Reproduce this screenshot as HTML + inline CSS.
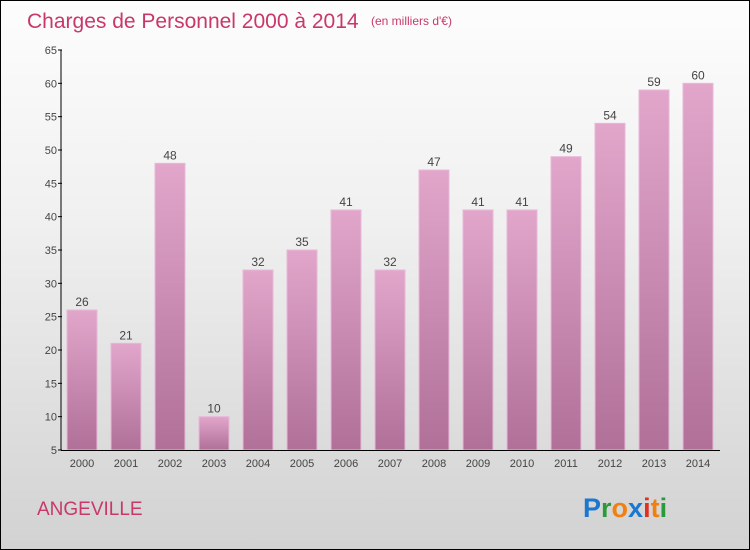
<!DOCTYPE html>
<html><head><meta charset="utf-8"><style>
body{margin:0}
#c{position:relative;width:748px;height:548px;border:1px solid #000;background:linear-gradient(#fdfdfd,#f0f0f0 40%,#d2d2d2);font-family:"Liberation Sans",sans-serif;overflow:hidden}
</style></head><body>
<div id="c">
<svg width="748" height="548" xmlns="http://www.w3.org/2000/svg">
<defs><linearGradient id="bg" x1="0" y1="0" x2="0" y2="1"><stop offset="0" stop-color="#e2a6cb"/><stop offset="1" stop-color="#b07098"/></linearGradient></defs>
<text x="26" y="27" font-size="21" fill="#c8386a">Charges de Personnel 2000 à 2014</text>
<text x="370" y="24" font-size="12" fill="#c8386a">(en milliers d'€)</text>
<g id="plot"></g>
<text x="36" y="514" font-size="19" fill="#c8386a">ANGEVILLE</text>
<g font-size="27" font-weight="bold">
<text x="582" y="516"><tspan fill="#1a78d0">P</tspan><tspan fill="#2a9a3a">r</tspan><tspan fill="#f08010">o</tspan><tspan fill="#1a78d0">x</tspan><tspan fill="#e03020">i</tspan><tspan fill="#f08010">t</tspan><tspan fill="#2a9a3a">i</tspan></text>
</g>
</svg></div>
<script>
const categories=["2000","2001","2002","2003","2004","2005","2006","2007","2008","2009","2010","2011","2012","2013","2014"];
const values=[26,21,48,10,32,35,41,32,47,41,41,49,54,59,60];
const ticks=[5,10,15,20,25,30,35,40,45,50,55,60,65];
const ns="http://www.w3.org/2000/svg";
const g=document.getElementById('plot');
const y0=449,y1=49,vmin=5,vmax=65,xL=60,xR=719;
const y=v=>y0-(v-vmin)/(vmax-vmin)*(y0-y1);
const step=44,bw=30,x=i=>66+i*step;
function mk(t,a){const e=document.createElementNS(ns,t);for(const k in a)e.setAttribute(k,a[k]);g.appendChild(e);return e;}
values.forEach((v,i)=>{
 const r=mk('rect',{x:x(i),y:y(v),width:bw,height:y0-y(v),fill:'url(#bg)',stroke:'#e8b8d8','stroke-width':1});
 
 
 const t=mk('text',{x:x(i)+bw/2,y:y(v)-4,'text-anchor':'middle','font-size':12,fill:'#444'});t.textContent=v;
 
 
 const c=mk('text',{x:x(i)+bw/2,y:466,'text-anchor':'middle','font-size':11,fill:'#444'});c.textContent=categories[i];
 
 
});
ticks.forEach(v=>{
 const l=mk('line',{x1:xL-3,x2:xL+1,y1:y(v),y2:y(v),stroke:'#000'});
 
 
 const t=mk('text',{x:xL-4,y:y(v)+4,'text-anchor':'end','font-size':11,fill:'#444'});t.textContent=v;
 
 
});
const ya=mk('line',{x1:xL,x2:xL,y1:y1,y2:y0,stroke:'#000'});


const xa=mk('line',{x1:xL,x2:xR,y1:y0+0.5,y2:y0+0.5,stroke:'#000'});


</script>
</body></html>
